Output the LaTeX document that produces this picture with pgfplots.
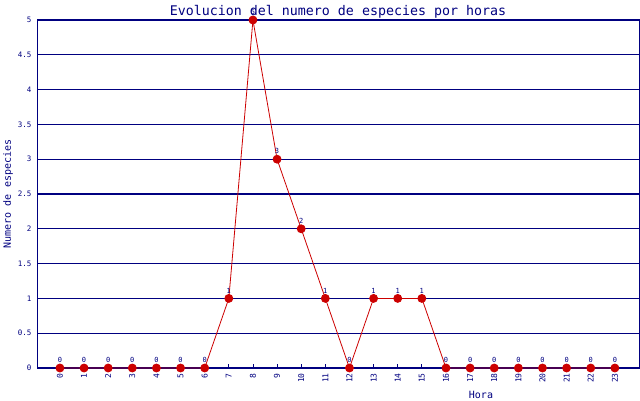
\documentclass[border=0pt]{standalone}
\usepackage{fontspec}
\setmainfont{DejaVu Sans Mono}
\usepackage{pgfplots}
\pgfplotsset{compat=1.18}
\definecolor{jpnavy}{RGB}{0,0,128}
\definecolor{jpred}{RGB}{204,0,0}

\begin{document}
\begin{tikzpicture}
\useasboundingbox (0,0) rectangle (640pt,400pt);
\begin{axis}
	[
		at			= {(37pt,32pt)},
		anchor			= south west,
		scale only axis,
		width			= 602pt,
		height			= 348pt,
		xmin			= -0.95,
		xmax			= 24,
		ymin			= 0,
		ymax			= 5,
		xtick			= {0,...,23},
		ytick			= {0,0.5,...,5},
		yticklabels		= {0,0.5,1,1.5,2,2.5,3,3.5,4,4.5,5},
		/pgf/number format/assume math mode=true,
		axis line style		= {jpnavy, line width=1pt},
		ymajorgrids,
		grid style		= {jpnavy, line width=1.2pt},
		tick align		= inside,
		major tick length	= 4pt,
		xtick style		= {jpnavy, line width=0.8pt},
		ytick style		= {draw=none},
		xtick pos		= bottom,
		ytick pos		= left,
		yticklabel style	= {font=\fontsize{7.5}{8}\selectfont, text=jpnavy, xshift=-2pt},
		xticklabel style	= {font=\fontsize{8}{9}\selectfont, text=jpnavy, rotate=90, anchor=east, inner ysep=0pt, inner xsep=5pt},
		title			= {Evolucion del numero de especies por horas},
		title style		= {at={(0.5,1)}, anchor=base, yshift=-1pt, text=jpnavy, font=\fontsize{13.3}{14}\selectfont},
		xlabel			= {Hora},
		xlabel style		= {at={(axis description cs:0.7375,0)}, anchor=base, yshift=-30pt, text=jpnavy, font=\fontsize{10}{12}\selectfont},
		ylabel			= {Numero de especies},
		ylabel style		= {at={(axis description cs:0,0.5)}, anchor=center, yshift=29pt, text=jpnavy, font=\fontsize{10}{12}\selectfont},
		nodes near coords,
		nodes near coords style	= {font=\fontsize{7}{8}\selectfont, text=jpnavy, anchor=south, inner sep=1pt, yshift=4pt},
		clip			= false,
	]
	\addplot[jpred, line width=0.8pt, mark=*, mark size=4pt, mark options={fill=jpred, draw=jpred}]
		coordinates{(0,0)(1,0)(2,0)(3,0)(4,0)(5,0)(6,0)(7,1)(8,5)(9,3)(10,2)(11,1)
		(12,0)(13,1)(14,1)(15,1)(16,0)(17,0)(18,0)(19,0)(20,0)(21,0)(22,0)(23,0)};
\end{axis}
\end{tikzpicture}
\end{document}
